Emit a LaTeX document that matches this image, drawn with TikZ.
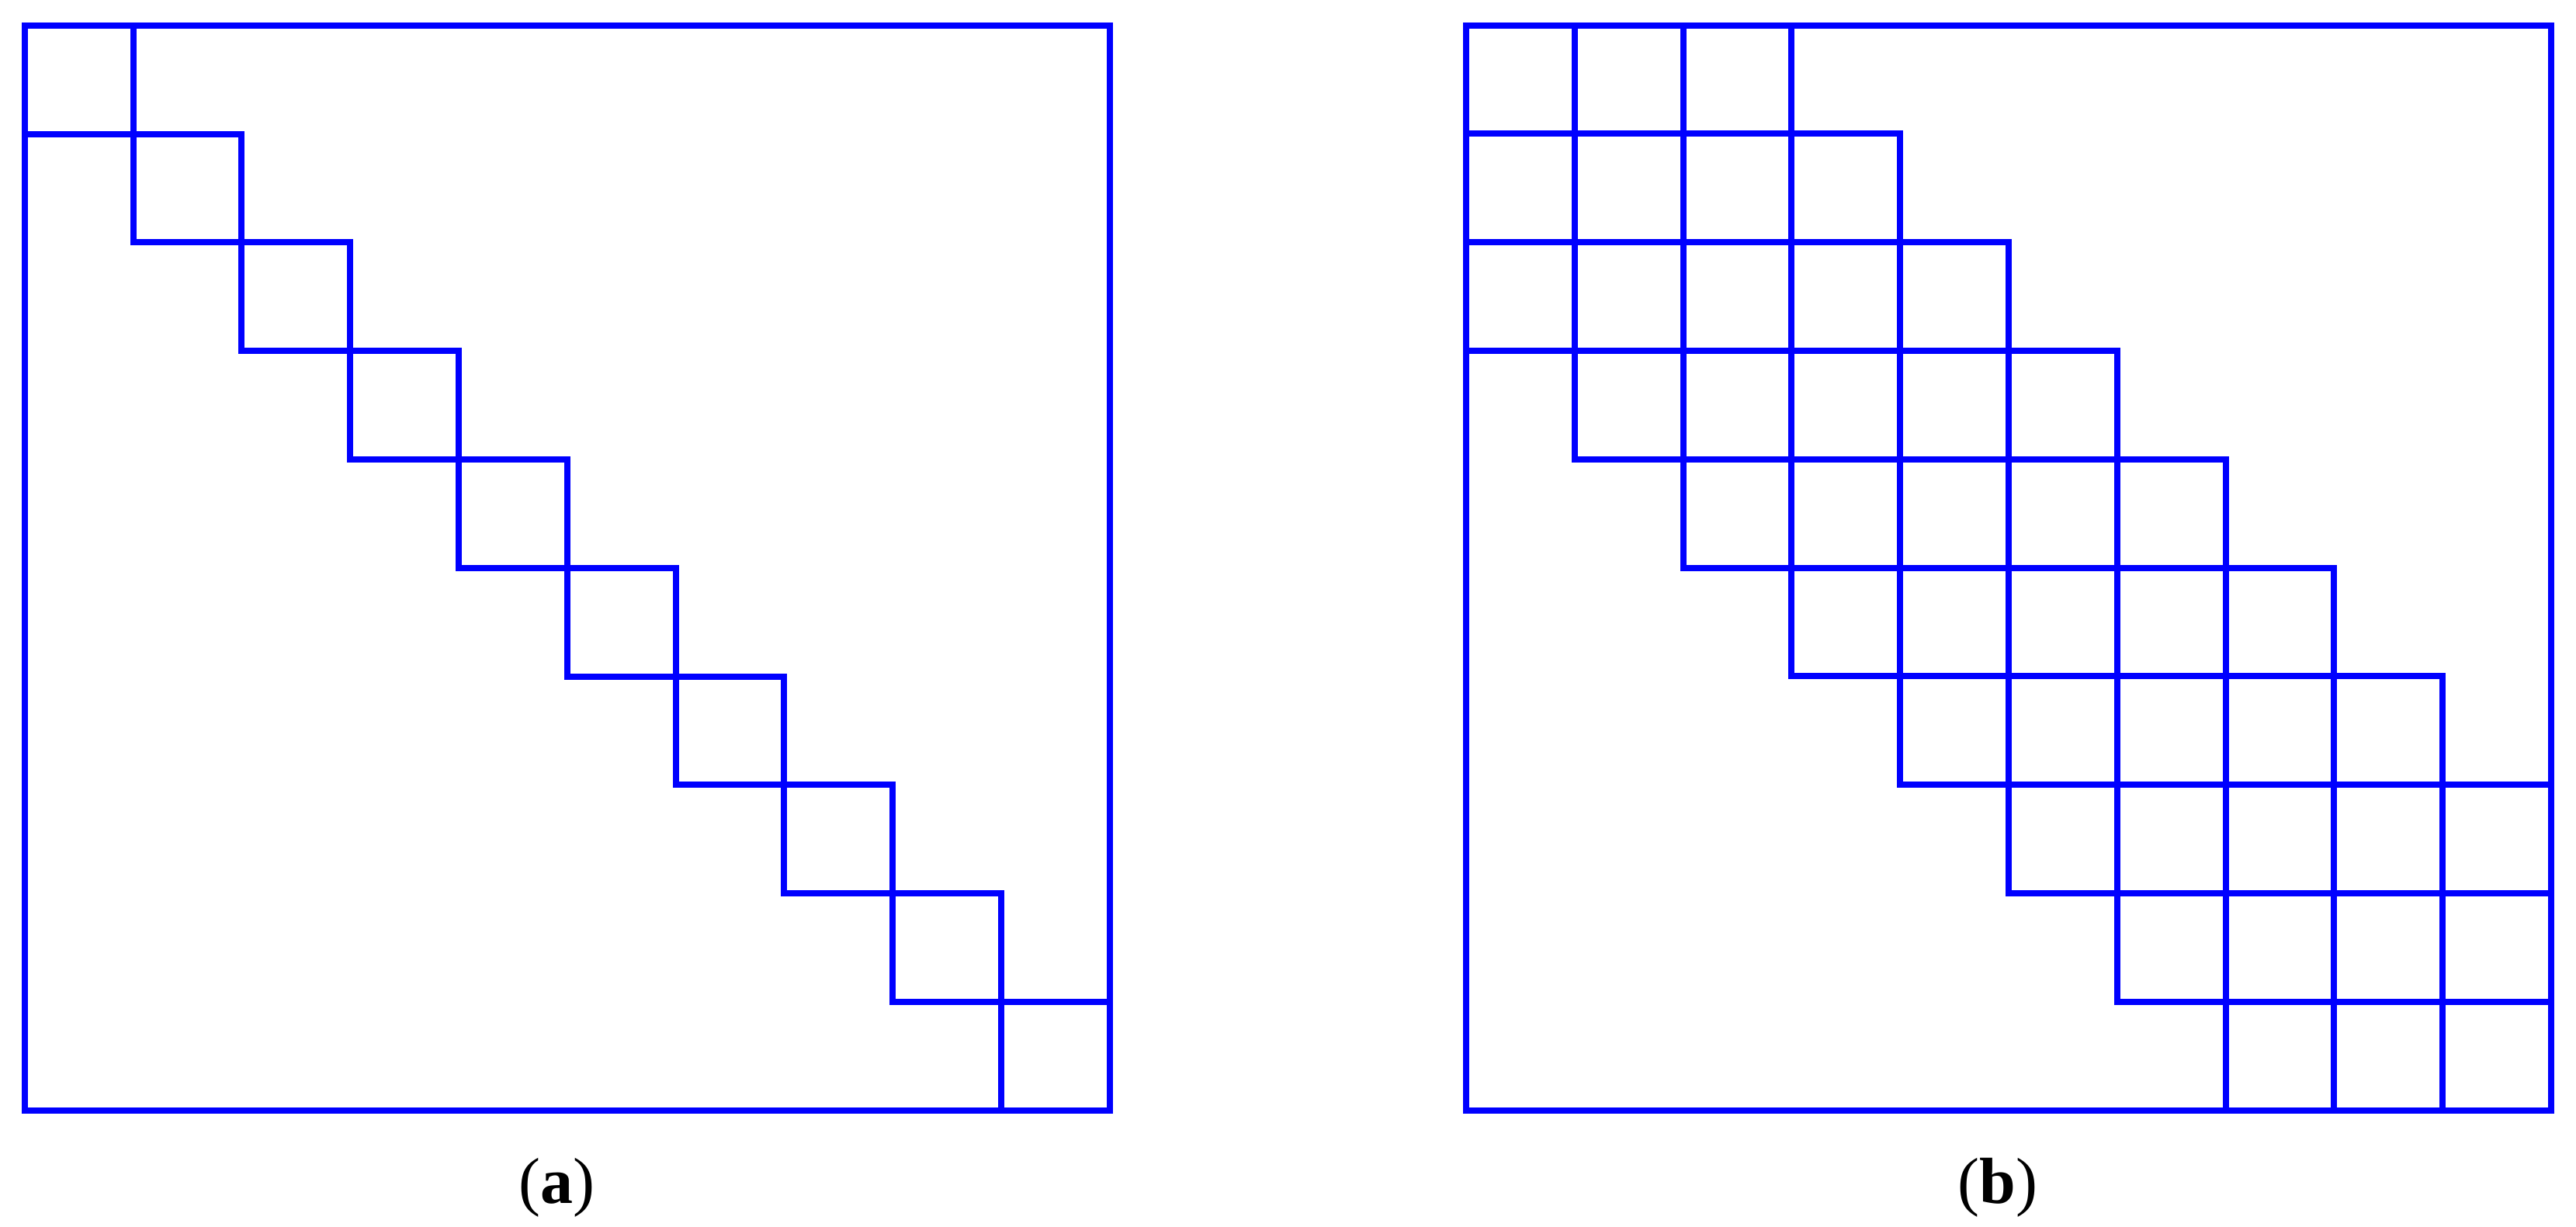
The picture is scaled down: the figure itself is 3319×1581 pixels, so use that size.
\documentclass[tikz,border=0pt]{standalone}
\usepackage{fontspec}
\setmainfont{Liberation Serif}
\begin{document}
\begin{tikzpicture}[x=0.25pt,y=-0.25pt,
  gridline/.style={draw={rgb,255:red,0;green,0;blue,255},line width=2pt},
  caption/.style={font=\fontsize{21}{25}\selectfont,anchor=base,inner sep=0pt}]
\useasboundingbox (0,0) rectangle (3319,1581);
\def\c{139.8}
% (a) block diagonal
\begin{scope}[shift={(31.7,32.8)}]
  \draw[gridline] (0,0) rectangle (10*\c,10*\c);
  \foreach \i in {0,...,9}{
    \draw[gridline] (\i*\c,\i*\c) rectangle ({(\i+1)*\c},{(\i+1)*\c});
  }
\end{scope}
% (b) band
\begin{scope}[shift={(1889,32.7)}]
  \draw[gridline] (0,0) rectangle (10*\c,10*\c);
  \foreach \i in {0,...,9}{
    \foreach \j in {0,...,9}{
      \pgfmathtruncatemacro{\d}{abs(\i-\j)}
      \ifnum\d<3
        \draw[gridline] (\j*\c,\i*\c) rectangle ({(\j+1)*\c},{(\i+1)*\c});
      \fi
    }
  }
\end{scope}
\node[caption] (capa) at (717,1550) {(\textbf{a})};
\node[caption] (capb) at (2574,1550) {(\textbf{b})};
\end{tikzpicture}
\end{document}
